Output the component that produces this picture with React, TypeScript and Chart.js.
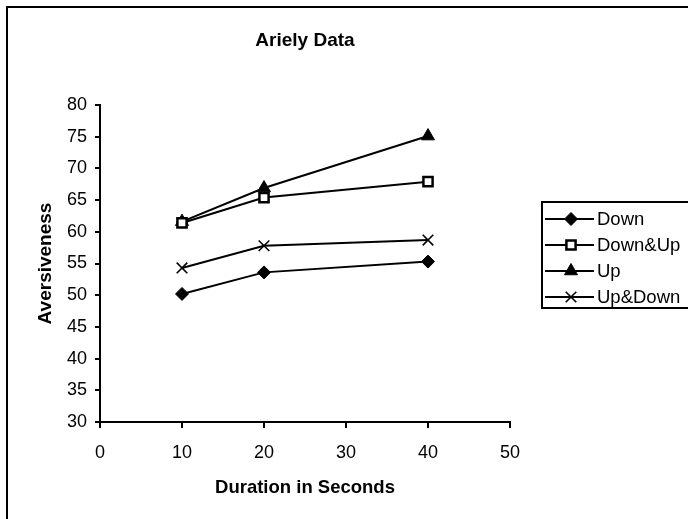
import { useEffect, useRef } from "react";
import { Chart, registerables } from "chart.js";
import { drawPoint } from "chart.js/helpers";

Chart.register(...registerables);

// Aversiveness ratings by stimulus duration (seconds)
const durations = [10, 20, 40];
const seriesNames = ["Down", "Down&Up", "Up", "Up&Down"];
const downValues = [50.2, 53.6, 55.3];
const downUpValues = [61.4, 65.4, 67.9];
const upValues = [61.6, 66.9, 75.1];
const upDownValues = [54.3, 57.8, 58.7];

const xTickValues = [0, 10, 20, 30, 40, 50];
const yTickValues = [30, 35, 40, 45, 50, 55, 60, 65, 70, 75, 80];

const chartTitle = "Ariely Data";
const xAxisTitle = "Duration in Seconds";
const yAxisTitle = "Aversiveness";

const FONT = "'Liberation Sans', Arial, Helvetica, sans-serif";

type MarkerStyle = {
  pointStyle: string;
  radius: number;
  fill: string;
  borderWidth: number;
};

const markers: MarkerStyle[] = [
  { pointStyle: "rectRot", radius: 6.5, fill: "#000", borderWidth: 1 },
  { pointStyle: "rect", radius: 6.5, fill: "#fff", borderWidth: 2.5 },
  { pointStyle: "triangle", radius: 7.5, fill: "#000", borderWidth: 1 },
  { pointStyle: "crossRot", radius: 7.5, fill: "#000", borderWidth: 1.6 },
];

const seriesValues = [downValues, downUpValues, upValues, upDownValues];

// Frame, title and boxed legend drawn around the plot
const decorations = {
  id: "decorations",
  afterDraw(chart: Chart) {
    const { ctx, chartArea } = chart;
    ctx.save();

    // outer frame
    ctx.strokeStyle = "#000";
    ctx.lineWidth = 2;
    ctx.strokeRect(7, 7, 700, 530);

    // title
    ctx.fillStyle = "#000";
    ctx.font = `bold 19px ${FONT}`;
    ctx.textAlign = "center";
    ctx.textBaseline = "middle";
    ctx.fillText(chartTitle, (chartArea.left + chartArea.right) / 2, 41);

    // legend box
    const lx = 542;
    const ly = 202;
    ctx.lineWidth = 2;
    ctx.strokeRect(lx, ly, 170, 106);

    ctx.font = `18.5px ${FONT}`;
    ctx.textAlign = "left";
    chart.data.datasets.forEach((ds, i) => {
      const y = ly + 17 + i * 26;
      ctx.strokeStyle = "#000";
      ctx.lineWidth = 2;
      ctx.beginPath();
      ctx.moveTo(lx + 3, y);
      ctx.lineTo(lx + 52, y);
      ctx.stroke();
      const m = markers[i];
      ctx.fillStyle = m.fill;
      ctx.strokeStyle = "#000";
      ctx.lineWidth = m.borderWidth;
      drawPoint(
        ctx,
        { pointStyle: m.pointStyle as any, radius: m.radius, rotation: 0, borderWidth: m.borderWidth },
        lx + 29,
        y
      );
      ctx.fillStyle = "#000";
      ctx.fillText(String(ds.label), lx + 55, y + 1);
    });

    ctx.restore();
  },
};

export default function App() {
  const canvasRef = useRef<HTMLCanvasElement | null>(null);

  useEffect(() => {
    const canvas = canvasRef.current;
    if (!canvas) return;

    const datasets = seriesNames.map((name, i) => ({
      label: name,
      data: durations.map((d, j) => ({ x: d, y: seriesValues[i][j] })),
      showLine: true,
      borderColor: "#000",
      borderWidth: 2,
      pointStyle: markers[i].pointStyle as any,
      pointRadius: markers[i].radius,
      pointBackgroundColor: markers[i].fill,
      pointBorderColor: "#000",
      pointBorderWidth: markers[i].borderWidth,
      clip: false as any,
    }));

    const chart = new Chart(canvas, {
      type: "scatter",
      data: { datasets },
      options: {
        responsive: false,
        animation: false,
        events: [],
        layout: { padding: { left: 0, top: 105, right: 178, bottom: 0 } },
        plugins: {
          legend: { display: false },
          title: { display: false },
          tooltip: { enabled: false },
        },
        scales: {
          x: {
            type: "linear",
            min: 0,
            max: 50,
            afterFit: (scale: any) => {
              scale.height = 97;
            },
            afterBuildTicks: (scale: any) => {
              scale.ticks = xTickValues.map((v) => ({ value: v }));
            },
            border: { display: true, color: "#000", width: 2 },
            grid: {
              drawOnChartArea: false,
              drawTicks: true,
              tickLength: 6,
              color: "#000",
              lineWidth: 2,
            },
            ticks: {
              color: "#000",
              padding: 14,
              font: { family: FONT, size: 18 },
              maxRotation: 0,
            },
            title: {
              display: true,
              text: xAxisTitle,
              color: "#000",
              font: { family: FONT, size: 18.5, weight: "bold" },
              padding: { top: 0, bottom: 20 },
            },
          },
          y: {
            type: "linear",
            min: 30,
            max: 80,
            afterFit: (scale: any) => {
              scale.width = 100;
            },
            afterBuildTicks: (scale: any) => {
              scale.ticks = yTickValues.map((v) => ({ value: v }));
            },
            border: { display: true, color: "#000", width: 2 },
            grid: {
              drawOnChartArea: false,
              drawTicks: true,
              tickLength: 5,
              color: "#000",
              lineWidth: 2,
            },
            ticks: {
              color: "#000",
              padding: 8,
              font: { family: FONT, size: 18 },
            },
            title: {
              display: true,
              text: yAxisTitle,
              color: "#000",
              font: { family: FONT, size: 19, weight: "bold" },
              padding: { top: 34, bottom: 0 },
            },
          },
        },
      },
      plugins: [decorations],
    });

    return () => chart.destroy();
  }, []);

  return (
    <div style={{ position: "absolute", left: 0, top: 0, width: 688, height: 519, background: "#fff" }}>
      <canvas ref={canvasRef} width={688} height={519} style={{ display: "block" }} />
    </div>
  );
}
